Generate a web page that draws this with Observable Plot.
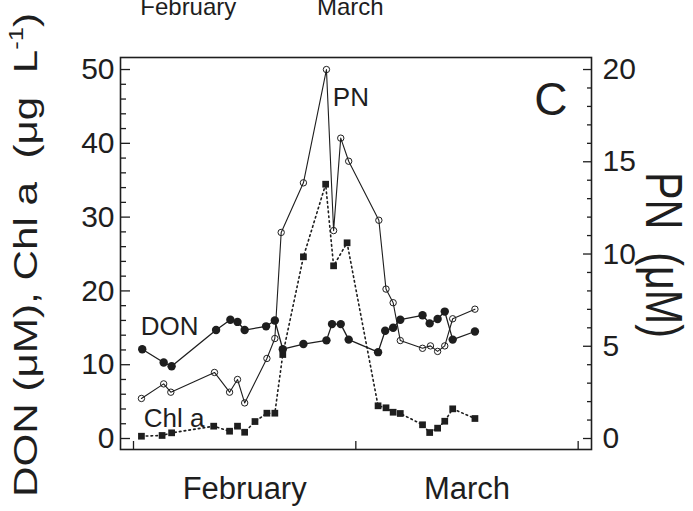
<!DOCTYPE html>
<html>
<head>
<meta charset="utf-8">
<script src="https://cdn.jsdelivr.net/npm/d3@7"></script>
<script src="https://cdn.jsdelivr.net/npm/@observablehq/plot@0.6"></script>
<style>
  html, body { margin: 0; padding: 0; background: white; }
  #chart { width: 693px; height: 511px; overflow: hidden; }
</style>
</head>
<body>
<div id="chart"></div>
<script>
// ---- Data (days counted from 1 February) ----
const donDays   = [1.1, 3.8, 4.8, 10.4, 12.2, 13.1, 14.0, 16.7, 17.8, 18.8, 21.4, 24.3, 25.0, 26.1, 27.1, 30.8, 31.7, 32.7, 33.6, 36.4, 37.3, 38.3, 39.2, 40.2, 43.0];
const donValues = [12.1, 10.3, 9.8, 14.7, 16.1, 15.8, 14.7, 15.2, 16.0, 12.1, 12.8, 13.3, 15.5, 15.5, 13.4, 11.7, 14.6, 15.0, 16.1, 16.7, 15.6, 16.2, 17.2, 13.4, 14.5];

const pnDays    = [1.0, 3.8, 4.7, 10.2, 12.1, 13.1, 14.0, 16.8, 17.8, 18.6, 21.4, 24.3, 25.2, 26.1, 27.1, 30.9, 31.8, 32.7, 33.6, 36.4, 37.4, 38.3, 39.2, 40.2, 43.0];
const pnValues  = [2.17, 2.96, 2.51, 3.58, 2.51, 3.2, 1.93, 4.34, 5.42, 11.17, 13.86, 20.0, 11.27, 16.28, 15.03, 11.83, 8.1, 7.36, 5.31, 4.89, 5.02, 4.72, 5.02, 6.49, 7.01];

const chlDays   = [1.0, 3.6, 4.8, 10.1, 12.1, 13.1, 14.0, 15.3, 16.8, 17.8, 18.8, 21.4, 24.2, 25.2, 26.9, 30.8, 31.8, 32.7, 33.6, 36.4, 37.3, 38.3, 39.2, 40.2, 43.0];
const chlValues = [0.31, 0.41, 0.77, 1.67, 0.99, 1.67, 0.85, 2.30, 3.43, 3.43, 11.38, 24.62, 34.46, 23.40, 26.52, 4.43, 4.16, 3.56, 3.39, 1.86, 0.81, 1.40, 2.34, 4.02, 2.71];

// Axis ticks
const leftMajor  = [0, 10, 20, 30, 40, 50];
const leftMinor  = [2, 4, 6, 8, 12, 14, 16, 18, 22, 24, 26, 28, 32, 34, 36, 38, 42, 44, 46, 48];
const rightMajor = [0, 5, 10, 15, 20];                 // PN (µM)
const rightMinor = [1, 2, 3, 4, 6, 7, 8, 9, 11, 12, 13, 14, 16, 17, 18, 19];
const monthTicks = [0, 28, 56];                        // month boundaries
const monthNames = ["February", "March"];
const monthMid   = [14, 42];
const topMonthNames = ["February", "March"];           // cropped labels of the panel above
const topMonthMid   = [6.9, 27.3];

// Series annotations
const annText  = ["PN", "DON", "Chl a"];
const annDay   = [25.1, 0.9, 1.3];
const annValue = [45.1, 14.0, 1.5];

const PN_FACTOR = 50 / 20; // right axis 0–20 maps onto left axis 0–50

const don = donDays.map((d, i) => ({d, v: donValues[i]}));
const pn  = pnDays.map((d, i) => ({d, v: pnValues[i] * PN_FACTOR}));
const chl = chlDays.map((d, i) => ({d, v: chlValues[i]}));
const ann = annText.map((t, i) => ({t, d: annDay[i], v: annValue[i]}));
const months = monthNames.map((t, i) => ({t, d: monthMid[i]}));
const topMonths = topMonthNames.map((t, i) => ({t, d: topMonthMid[i]}));

const ink = "#1e1e1e";
const font = "'Liberation Sans', Arial, Helvetica, sans-serif";

const plot = Plot.plot({
  width: 693,
  height: 511,
  marginLeft: 120,
  marginRight: 102,
  marginTop: 57,
  marginBottom: 62,
  x: {domain: [-1.637, 57.68]},
  y: {domain: [-1.49, 51.63]},
  style: {fontFamily: font, color: ink, background: "white", overflow: "visible"},
  marks: [
    // left axis
    Plot.axisY(leftMajor, {anchor: "left", tickSize: -10, tickFormat: () => "", label: null, strokeWidth: 1.3}),
    Plot.axisY(leftMinor, {anchor: "left", tickSize: -6, tickFormat: () => "", label: null, strokeWidth: 1.3}),
    Plot.axisY(leftMajor, {anchor: "left", tickSize: 0, tickPadding: 6, fontSize: 30, label: null}),
    // right axis (PN)
    Plot.axisY(rightMajor.map(v => v * PN_FACTOR), {anchor: "right", tickSize: -9, tickFormat: () => "", label: null, strokeWidth: 1.3}),
    Plot.axisY(rightMinor.map(v => v * PN_FACTOR), {anchor: "right", tickSize: -5, tickFormat: () => "", label: null, strokeWidth: 1.3}),
    Plot.axisY(rightMajor.map(v => v * PN_FACTOR), {anchor: "right", tickSize: 0, tickPadding: 11, fontSize: 30, tickFormat: d => d3.format("d")(d / PN_FACTOR), label: null}),
    // bottom ticks
    Plot.axisX(monthTicks, {anchor: "bottom", tickSize: -8, tickFormat: () => "", label: null, strokeWidth: 1.3}),
    Plot.frame({stroke: ink, strokeWidth: 1.6}),
    // month labels
    Plot.text(months, {x: "d", text: "t", frameAnchor: "bottom", dy: 49, lineAnchor: "bottom", fontSize: 31, fill: ink}),
    Plot.text(topMonths, {x: "d", text: "t", frameAnchor: "top", dy: -43, lineAnchor: "bottom", fontSize: 24, fill: ink}),
    // PN
    Plot.line(pn, {x: "d", y: "v", stroke: ink, strokeWidth: 1.1}),
    Plot.dot(pn, {x: "d", y: "v", r: 3.2, stroke: ink, strokeWidth: 1, fill: "none"}),
    // Chl a
    Plot.line(chl, {x: "d", y: "v", stroke: ink, strokeWidth: 1.6, strokeDasharray: "1.6,3.2"}),
    Plot.dot(chl, {x: "d", y: "v", symbol: "square", r: 3.8, fill: ink, stroke: "none"}),
    // DON
    Plot.line(don, {x: "d", y: "v", stroke: ink, strokeWidth: 1.3}),
    Plot.dot(don, {x: "d", y: "v", r: 4.2, fill: ink, stroke: "none"}),
    // annotations
    Plot.text(ann, {x: "d", y: "v", text: "t", textAnchor: "start", lineAnchor: "bottom", fontSize: 26, fill: ink}),
    Plot.text(["C"], {text: d => d, frameAnchor: "top-right", dx: -24, dy: 25, textAnchor: "end", lineAnchor: "top", fontSize: 46, fill: ink})
  ]
});

// Axis titles (stretched glyphs like the reference)
const svg = d3.select(plot);
const lt = svg.append("text")
  .attr("transform", "translate(37,497) rotate(-90)")
  .attr("text-anchor", "start")
  .attr("font-family", font).attr("font-size", 33).attr("fill", ink)
  .attr("textLength", 484).attr("lengthAdjust", "spacingAndGlyphs")
  .style("white-space", "pre");
lt.append("tspan").text("DON (μM), Chl a  (μg  L");
lt.append("tspan").attr("font-size", 20).attr("dy", -14).text("-1");
lt.append("tspan").attr("dy", 14).text(")");

svg.append("text")
  .attr("transform", "translate(646,172) rotate(90)")
  .attr("text-anchor", "start")
  .attr("font-family", font).attr("font-size", 52).attr("fill", ink)
  .attr("textLength", 166).attr("lengthAdjust", "spacingAndGlyphs")
  .style("white-space", "pre")
  .text("PN  (μM)");

document.getElementById("chart").appendChild(plot);
</script>
</body>
</html>
